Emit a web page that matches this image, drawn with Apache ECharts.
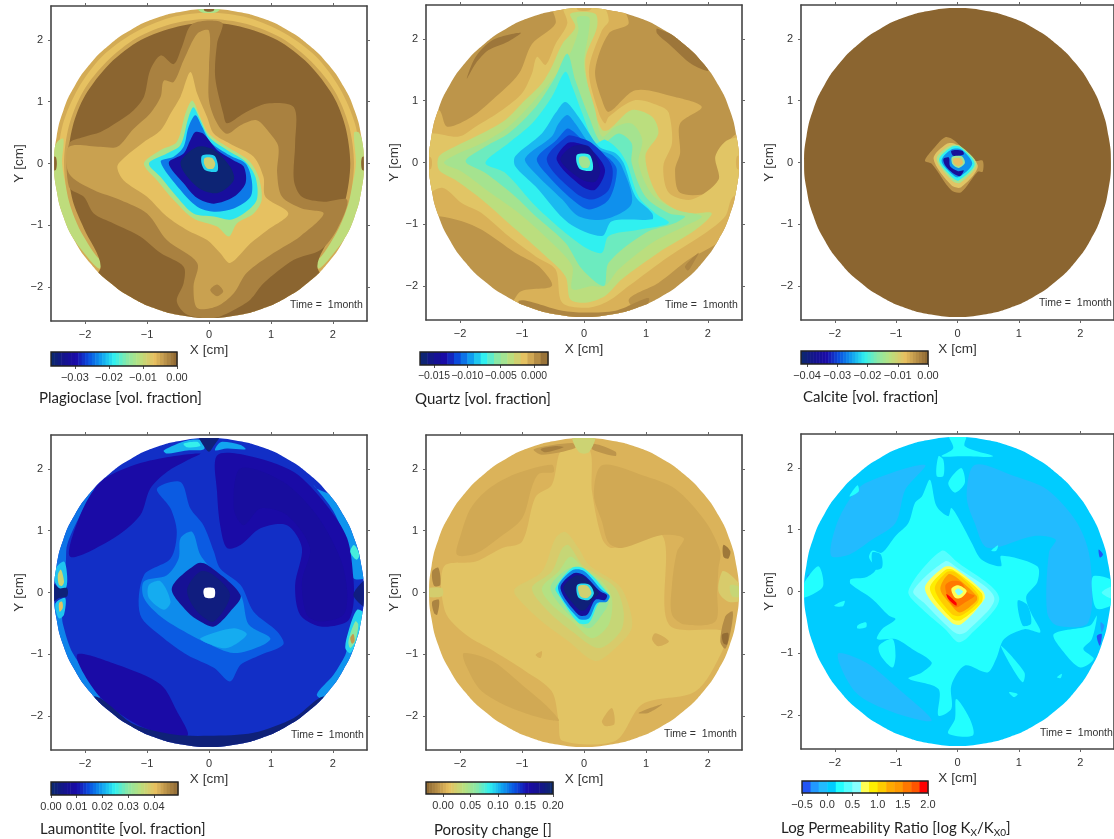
<!DOCTYPE html>
<html><head><meta charset="utf-8">
<script src="https://cdn.jsdelivr.net/npm/echarts@6/dist/echarts.min.js"></script>
<style>html,body{margin:0;padding:0;background:#fff}#c{width:1114px;height:839px;filter:blur(0.7px)}</style>
</head><body><div id="c"></div>
<script>
// ---- axis ticks ----
const mapTicks=[-2,-1,0,1,2];
const plagioclaseTicks=[-0.03,-0.02,-0.01,0];
const quartzTicks=[-0.015,-0.01,-0.005,0];
const calciteTicks=[-0.04,-0.03,-0.02,-0.01,0];
const laumontiteTicks=[0,0.01,0.02,0.03,0.04];
const porosityTicks=[0,0.05,0.1,0.15,0.2];
const permeabilityTicks=[-0.5,0,0.5,1,1.5,2];
// ---- colour-bar classes ----
const plagioclaseEdges=[-0.037,-0.036,-0.035,-0.034,-0.033,-0.032,-0.031,-0.03,-0.029,-0.028,-0.027,-0.026,-0.025,-0.024,-0.023,-0.022,-0.021,-0.02,-0.019,-0.018,-0.017,-0.016,-0.015,-0.014,-0.013,-0.012,-0.011,-0.01,-0.009,-0.008,-0.007,-0.006,-0.005,-0.004,-0.003,-0.002,-0.001,0];
const quartzEdges=[-0.0171,-0.016,-0.015,-0.014,-0.013,-0.012,-0.011,-0.01,-0.009,-0.008,-0.007,-0.006,-0.005,-0.004,-0.003,-0.002,-0.001,0,0.001,0.0021];
const calciteEdges=[-0.042,-0.041,-0.04,-0.039,-0.038,-0.037,-0.036,-0.035,-0.034,-0.033,-0.032,-0.031,-0.03,-0.029,-0.028,-0.027,-0.026,-0.025,-0.024,-0.023,-0.022,-0.021,-0.02,-0.019,-0.018,-0.017,-0.016,-0.015,-0.014,-0.013,-0.012,-0.011,-0.01,-0.009,-0.008,-0.007,-0.006,-0.005,-0.004,-0.003,-0.002,-0.001,0];
const laumontiteEdges=[0,0.00125,0.0025,0.00375,0.005,0.00625,0.0075,0.00875,0.01,0.01125,0.0125,0.01375,0.015,0.01625,0.0175,0.01875,0.02,0.02125,0.0225,0.02375,0.025,0.02625,0.0275,0.02875,0.03,0.03125,0.0325,0.03375,0.035,0.03625,0.0375,0.03875,0.04,0.04125,0.0425,0.04375,0.045,0.04625,0.0475,0.04875,0.0494];
const porosityEdges=[-0.031,-0.025,-0.02,-0.015,-0.01,-0.005,0,0.005,0.01,0.015,0.02,0.025,0.03,0.035,0.04,0.045,0.05,0.055,0.06,0.065,0.07,0.075,0.08,0.085,0.09,0.095,0.1,0.105,0.11,0.115,0.12,0.125,0.13,0.135,0.14,0.145,0.15,0.155,0.16,0.165,0.17,0.175,0.18,0.185,0.19,0.195,0.2];
const permeabilityEdges=[-0.5,-0.33,-0.17,0,0.17,0.33,0.5,0.67,0.83,1,1.17,1.33,1.5,1.67,1.83,2];
// ---- sample outline (cm) ----
const diskOutline=[[2.5,0],[2.46,.43],[2.35,.86],[2.17,1.25],[1.92,1.61],[1.61,1.92],[1.25,2.17],[.86,2.35],[.43,2.46],[0,2.5],[-.43,2.46],[-.86,2.35],[-1.25,2.17],[-1.61,1.92],[-1.92,1.61],[-2.17,1.25],[-2.35,.86],[-2.46,.43],[-2.5,0],[-2.46,-.43],[-2.35,-.86],[-2.17,-1.25],[-1.92,-1.61],[-1.61,-1.92],[-1.25,-2.17],[-.86,-2.35],[-.43,-2.46],[0,-2.5],[.43,-2.46],[.86,-2.35],[1.25,-2.17],[1.61,-1.92],[1.92,-1.61],[2.17,-1.25],[2.35,-.86],[2.46,-.43]];
const bigBox=[[-2.7,2.7],[2.7,2.7],[2.7,-2.7],[-2.7,-2.7]];
const ringOuter=[[2.44,0],[2.36,.63],[2.11,1.22],[1.73,1.73],[1.22,2.11],[.63,2.36],[0,2.44],[-.63,2.36],[-1.22,2.11],[-1.73,1.73],[-2.11,1.22],[-2.36,.63],[-2.44,0],[-2.36,-.63],[-2.11,-1.22],[-1.73,-1.73],[0,-2.44],[1.73,-1.73],[2.11,-1.22],[2.36,-.63]];
const ringInner=[[2.34,0],[2.26,.61],[2.03,1.17],[1.65,1.65],[1.17,2.03],[.61,2.26],[0,2.34],[-.61,2.26],[-1.17,2.03],[-1.65,1.65],[-2.03,1.17],[-2.26,.61],[-2.34,0],[-2.26,-.61],[-2.03,-1.17],[-1.65,-1.65],[0,-2.34],[1.65,-1.65],[2.03,-1.17],[2.26,-.61]];
// ---- contour bands: [level, outline in cm] painted in order ----
const plagioclaseContours=[
[-0.0052,bigBox],
[-0.0068,ringOuter],
[-0.0105,[[-2.45,.35],[-2.6,0],[-2.5,-.6],[-2.3,-1.05],[-2.0,-1.47],[-1.78,-1.7],[-1.72,-1.62],[-1.9,-1.33],[-2.15,-.9],[-2.3,-.4],[-2.37,0],[-2.35,.4]]],
[-0.0105,[[2.42,.5],[2.6,0],[2.5,-.6],[2.3,-1.05],[2.0,-1.47],[1.78,-1.7],[1.72,-1.62],[1.9,-1.33],[2.15,-.9],[2.3,-.4],[2.37,0],[2.34,.5]]],
[-0.0048,ringInner],
[0,[[-1.75,-1.68],[-2.02,-1.05],[-2.2,-.6],[-2.28,0],[-2.2,.6],[-2.0,1.1],[-1.6,1.62],[-1.1,2.0],[-.5,2.22],[0,2.28],[.5,2.22],[1.1,2],[1.6,1.62],[2,1.1],[2.2,.6],[2.28,0],[2.2,-.6],[2,-1.1],[1.75,-1.68],[2.1,-2.2],[0,-2.9],[-2.1,-2.2]]],
[-0.012,[[-.22,2.56],[.22,2.56],[.12,2.45],[-.12,2.45]]],
[0,[[-.08,2.56],[.08,2.56],[.07,2.47],[-.07,2.47]]],
[0,[[-2.56,.1],[-2.47,.1],[-2.47,-.1],[-2.56,-.1]]],
[0,[[2.56,.1],[2.47,.1],[2.47,-.1],[2.56,-.1]]],
[-0.0022,[[-2.26,.32],[-2.02,.43],[-1.75,.51],[-1.51,.65],[-1.22,.86],[-1.05,1.08],[-.95,1.51],[-.78,1.75],[-.57,1.61],[-.44,1.88],[-.27,2.26],[.21,2.28],[.13,1.94],[.10,1.40],[.23,.81],[.29,.65],[.56,.81],[.94,.97],[1.37,.91],[1.39,.32],[1.37,-.27],[1.5,-.54],[1.85,-.62],[2.23,-.59],[2.06,-1.08],[1.80,-1.40],[1.37,-1.56],[.88,-1.94],[.67,-2.2],[.40,-2.37],[.08,-2.5],[-.35,-2.45],[-.52,-2.23],[-.41,-1.94],[-.41,-1.67],[-.78,-1.45],[-1.11,-1.18],[-1.54,-.97],[-1.86,-.81],[-2.02,-.54],[-2.26,-.38]]],
[-0.0045,[[-2.26,.27],[-1.75,.27],[-1.48,.27],[-1.22,.56],[-.95,.81],[-.78,1.08],[-.73,1.34],[-.57,1.32],[-.41,1.67],[-.19,2.1],[0,2.15],[0,1.56],[0,1.02],[.13,.65],[.29,.48],[.51,.62],[.77,.70],[.99,.48],[1.12,.27],[1.10,-.16],[1.18,-.54],[1.5,-.73],[1.85,-.81],[1.47,-1.18],[1.04,-1.45],[.61,-1.77],[.40,-2.1],[.13,-2.31],[-.19,-2.34],[-.25,-1.99],[-.19,-1.61],[-.68,-1.24],[-1.0,-.81],[-1.43,-.59],[-1.86,-.43],[-2.26,-.16]]],
[-0.0025,[[.02,-2.05],[.13,-1.96],[.23,-2.07],[.13,-2.15]]],
[-0.0068,[[-1.48,-.05],[-1.35,.11],[-1.05,.35],[-.78,.54],[-.62,.81],[-.46,1.08],[-.30,1.48],[-.19,1.13],[-.03,.75],[.08,.48],[.34,.32],[.72,.11],[.88,-.22],[.91,-.54],[1.28,-.81],[.94,-1.08],[.67,-1.29],[.34,-1.61],[.18,-1.45],[-.03,-1.24],[-.35,-1.08],[-.68,-.86],[-1.0,-.54],[-1.38,-.27]]],
[-0.012,[[-1.05,0],[-.78,.22],[-.52,.35],[-.38,.81],[-.27,1.02],[-.14,.75],[0,.48],[.29,.27],[.64,.05],[.80,-.22],[.85,-.59],[.72,-.81],[.45,-.97],[.32,-1.18],[.13,-1.02],[-.25,-.89],[-.57,-.59],[-.84,-.27]]],
[-0.019,[[-.97,0],[-.68,.16],[-.46,.30],[-.33,.75],[-.25,.91],[-.14,.70],[0,.43],[.29,.22],[.59,.03],[.75,-.22],[.77,-.59],[.56,-.81],[.34,-.91],[.08,-.86],[-.25,-.81],[-.52,-.54],[-.78,-.22]]],
[-0.024,[[-.78,.03],[-.57,.11],[-.41,.27],[-.33,.59],[-.22,.78],[-.11,.59],[.02,.35],[.34,.13],[.59,0],[.69,-.27],[.67,-.54],[.40,-.73],[.08,-.78],[-.19,-.70],[-.46,-.43]]],
[-0.031,[[-.65,.01],[-.41,.16],[-.3,.38],[-.22,.51],[-.09,.48],[.13,.22],[.40,.05],[.56,-.05],[.59,-.32],[.40,-.54],[.08,-.65],[-.19,-.56],[-.41,-.32]]],
[-0.036,[[-.46,0],[-.19,.27],[.08,.22],[.34,-.05],[.40,-.27],[.13,-.48],[-.19,-.38]]],
[-0.02,[[-.11,.13],[.08,.13],[.14,0],[.13,-.13],[-.06,-.11],[-.12,0]]],
[-0.009,[[-.07,.09],[.05,.09],[.10,0],[.07,-.08],[-.03,-.08],[-.08,0]]]
];
const quartzContours=[
[.0002,bigBox],
[.0014,[[-1.89,1.36],[-1.75,1.71],[-1.48,1.98],[-1.02,2.10],[-1.22,1.96],[-1.54,1.82],[-1.75,1.6]]],
[.0014,[[1.18,2.17],[1.69,1.92],[2.01,1.49],[1.74,1.59],[1.37,1.92],[1.18,2.09]]],
[-.0008,[[-.52,2.6],[-.46,2.25],[-.84,1.92],[-1.05,1.44],[-1.48,1.01],[-1.81,.74],[-2.21,.58],[-2.34,.85],[-2.67,.85],[-2.67,-.87],[-2.34,-.87],[-1.97,-.95],[-1.65,-1.09],[-1.11,-1.46],[-.73,-1.68],[-.52,-2.0],[-1.05,-2.11],[-1.22,-2.75],[1.2,-2.75],[.72,-2.24],[1.2,-1.95],[1.69,-1.57],[2.23,-1.25],[2.41,-.92],[2.82,-.92],[2.82,.47],[2.47,.47],[2.28,.26],[2.17,.04],[2.33,-.28],[2.06,-.49],[1.55,-.49],[1.47,-.12],[1.55,.15],[1.55,.63],[1.90,.90],[1.47,1.06],[.83,1.17],[.40,.82],[.29,1.01],[.18,1.49],[.40,2.09],[.72,2.25],[.51,2.6]]],
[.0008,[[-1.05,-2.24],[-.35,-2.40],[0,-2.43],[.51,-2.40],[1.05,-2.2],[.72,-2.7],[0,-2.7],[-.78,-2.7]]],
[.0008,[[1.63,-1.68],[1.85,-1.46],[1.78,-1.6],[1.68,-1.75]]],
[-.0017,[[-.33,2.54],[-.27,2.25],[-.46,1.92],[-.62,1.58],[-.76,1.71],[-.84,1.44],[-1.0,1.12],[-1.32,.85],[-1.75,.58],[-2.02,.42],[-2.40,.47],[-2.67,.47],[-2.67,-.55],[-2.29,-.41],[-1.97,-.66],[-1.65,-.82],[-1.22,-1.19],[-.78,-1.52],[-.46,-1.73],[-.35,-2.27],[.08,-2.35],[.40,-2.24],[.72,-2.0],[1.37,-1.52],[1.96,-1.14],[2.28,-.87],[2.41,-.55],[2.82,-.44],[2.82,.37],[2.33,.37],[2.12,.10],[2.17,-.28],[1.74,-.60],[1.37,-.49],[1.28,-.06],[1.42,.31],[1.37,.80],[1.26,.90],[.83,1.01],[.40,.74],[.34,.63],[.24,.80],[.08,1.49],[.29,2.14],[.40,2.3],[.29,2.54]]],
[-.0008,[[-.12,2.6],[.14,2.6],[.1,2.47],[-.1,2.47]]],
[-.0008,[[-2.6,.08],[-2.47,.08],[-2.47,-.1],[-2.6,-.1]]],
[-.0008,[[2.6,.1],[2.47,.1],[2.47,-.1],[2.6,-.1]]],
[-.0035,[[-.22,2.41],[-.14,2.19],[-.35,1.92],[-.52,1.55],[-.68,1.28],[-.95,1.01],[-1.27,.69],[-1.75,.42],[-2.08,.26],[-2.34,.10],[-2.34,-.12],[-2.08,-.28],[-1.65,-.6],[-1.22,-.98],[-.68,-1.46],[-.30,-1.84],[-.22,-2.22],[.02,-2.27],[.34,-2.16],[.61,-1.89],[1.2,-1.46],[1.80,-1.09],[2.06,-.82],[1.63,-.82],[1.2,-.55],[.99,.10],[1.2,.47],[1.10,.74],[.77,.85],[.40,.53],[.29,.53],[.13,.96],[.02,1.66],[.21,2.19],[.18,2.41]]],
[-.0044,[[-.11,2.35],[-.09,2.14],[-.25,1.71],[-.52,1.33],[-.84,.96],[-1.22,.58],[-1.65,.31],[-2.08,.12],[-2.26,-.01],[-1.97,-.15],[-1.54,-.47],[-1.05,-.82],[-.52,-1.30],[-.19,-1.68],[-.19,-2.05],[.13,-2.0],[.34,-2.0],[.56,-1.73],[1.10,-1.30],[1.63,-1.03],[1.90,-.87],[1.47,-.76],[1.1,-.52],[.88,-.01],[.94,.37],[.77,.63],[.51,.58],[.29,.42],[.18,.85],[0,1.55],[.08,2.14],[.08,2.35]]],
[-.0062,[[-.27,1.76],[-.46,1.39],[-.78,.90],[-1.22,.47],[-1.59,.26],[-1.91,.02],[-1.59,-.17],[-1.11,-.55],[-.78,-.87],[-.3,-1.3],[-.03,-1.73],[.32,-2.0],[.40,-1.62],[.99,-1.14],[1.47,-.98],[1.63,-.87],[1.37,-.82],[.99,-.55],[.77,-.01],[.77,.31],[.56,.47],[.29,.31],[.08,.74],[-.14,1.33]]],
[-.0075,[[-.30,1.47],[-.52,1.06],[-.84,.63],[-1.22,.31],[-1.59,-.01],[-1.27,-.17],[-.78,-.71],[-.30,-1.14],[.08,-1.41],[.29,-1.46],[.40,-1.19],[.88,-1.09],[1.37,-.98],[1.15,-.82],[.88,-.55],[.69,-.01],[.56,.20],[.34,.37],[.18,.31],[-.03,.80],[-.19,1.23]]],
[-.0088,[[-.30,.98],[-.46,.80],[-.68,.47],[-1.11,.10],[-1.11,-.06],[-.78,-.39],[-.25,-.98],[.29,-1.19],[.45,-.95],[1.1,-.92],[1.10,-.82],[.83,-.55],[.64,-.01],[.51,.15],[.24,.26],[-.09,.74]]],
[-.0098,[[-.27,.77],[-.41,.63],[-.52,.42],[-.95,.07],[-.84,-.12],[-.35,-.6],[-.09,-.87],[.34,-.92],[.77,-.66],[.61,-.06],[.45,.12],[.13,.26],[-.14,.63]]],
[-.011,[[-.27,.55],[-.44,.37],[-.76,.07],[-.62,-.17],[-.19,-.60],[.08,-.76],[.40,-.60],[.53,-.12],[.40,.07],[.08,.26],[-.17,.50]]],
[-.012,[[-.27,.43],[-.6,.04],[-.14,-.49],[.13,-.6],[.40,-.44],[.45,-.06],[.13,.31],[-.14,.42]]],
[-.0135,[[-.27,.31],[-.44,.04],[-.03,-.39],[.18,-.44],[.34,-.12],[.13,.2],[-.09,.31]]],
[-.015,[[-.19,.26],[-.38,.04],[-.03,-.28],[.18,-.31],[.26,-.12],[.08,.26]]],
[-.0075,[[-.11,.13],[.08,.13],[.14,0],[.13,-.13],[-.06,-.11],[-.12,0]]],
[-.0045,[[-.07,.09],[.05,.09],[.10,0],[.07,-.08],[-.03,-.08],[-.08,0]]]
];
const calciteContours=[
[0,bigBox],
[-.004,[[-.53,.03],[-.42,.19],[-.2,.41],[-.04,.35],[.28,.03],[.41,.03],[.41,-.15],[.33,-.15],[.06,-.48],[-.1,-.45],[-.42,-.02]]],
[-.0084,[[-.39,.06],[-.18,.3],[-.04,.3],[.33,-.05],[.06,-.4],[-.1,-.37]]],
[-.0143,[[-.34,.06],[-.12,.27],[.04,.27],[.31,-.03],[.04,-.33],[-.09,-.29]]],
[-.021,[[-.3,.04],[-.1,.25],[.04,.25],[.28,-.03],[.02,-.29],[-.09,-.24]]],
[-.026,[[-.26,.03],[-.1,.21],[.06,.21],[.24,-.02],[.01,-.24],[-.11,-.17]]],
[-.036,[[-.1,.19],[.08,.19],[.1,.13],[-.07,.11]]],
[-.036,[[-.23,.06],[-.14,.08],[-.12,-.06],[.01,-.14],[.1,-.13],[.04,-.22],[-.08,-.17],[-.2,-.05]]],
[-.015,[[-.09,.09],[.07,.1],[.12,-.01],[.02,-.09],[-.08,-.03]]],
[-.0075,[[-.07,.06],[.05,.07],[.09,-.01],[.02,-.06],[-.06,-.02]]]
];
const laumontiteContours=[
[.0125,bigBox],
[.017,[[-2.6,.45],[-2.1,1.47],[-1.83,1.68],[-2.08,1.25],[-2.29,.77],[-2.34,.39]]],
[.019,[[1.74,1.68],[2.2,1.46],[2.5,.88],[2.6,.28],[2.33,.23],[2.25,.72],[2.01,1.31],[1.69,1.74]]],
[.018,[[-2.6,-.2],[-2.5,-.6],[-2.3,-1.1],[-1.85,-1.75],[-1.75,-1.65],[-2.2,-.98],[-2.36,-.5],[-2.4,-.2]]],
[.019,[[1.74,-1.65],[2.01,-1.33],[2.2,-1.01],[2.28,-.79],[2.6,-.79],[2.3,-1.5],[1.88,-1.74]]],
[.0095,[[-2.24,.58],[-1.54,.88],[-1.11,1.25],[-.95,1.68],[-.68,1.95],[-.35,2.14],[-.14,2.25],[-.68,2.19],[-1.22,2.06],[-1.75,1.79],[-2.08,1.25]]],
[.0095,[[.13,2.22],[.61,2.22],[1.37,1.95],[1.9,1.41],[2.23,.88],[2.33,.23],[2.33,-.2],[2.23,-.47],[1.8,-.55],[1.47,-.36],[1.39,.12],[1.5,.72],[1.26,1.09],[.83,1.04],[.51,.77],[.29,.72],[.18,1.09],[.13,1.63]]],
[.0095,[[-2.13,-1.01],[-1.48,-1.17],[-.78,-1.49],[-.52,-1.92],[-.35,-2.32],[-1.05,-2.19],[-1.75,-1.7]]],
[.0082,[[.51,2.01],[1.2,1.79],[1.74,1.25],[2.12,.55],[2.23,.02],[2.17,-.36],[1.8,-.47],[1.58,-.36],[1.5,.18],[1.63,.72],[1.26,1.25],[.83,1.36],[.56,1.09],[.4,1.36]]],
[.002,[[-1.86,-1.68],[-1.22,-2.13],[-.57,-2.3],[0,-2.32],[.72,-2.27],[1.37,-2.03],[1.88,-1.68],[2.2,-2.13],[0,-2.8],[-2.2,-2.13]]],
[.0155,[[-1.05,.28],[-.62,.55],[-.52,.98],[-.62,1.36],[-.84,1.68],[-.46,1.79],[-.3,1.36],[-.09,1.09],[.08,.66],[.18,.39],[.51,.12],[.72,-.31],[1.1,-.63],[1.2,-.84],[.83,-1.01],[.51,-1.17],[.34,-1.44],[.08,-1.22],[-.35,-1.01],[-.73,-.74],[-1.11,-.36]]],
[.0185,[[-1.05,.18],[-.68,.28],[-.49,.55],[-.46,.88],[-.27,.98],[-.14,.61],[.08,.34],[.51,-.04],[.64,-.52],[.99,-.74],[.83,-.87],[.4,-.98],[-.03,-.82],[-.35,-.66],[-.78,-.39],[-1.05,-.09]]],
[.0205,[[-.14,-.74],[.4,-.58],[.61,-.68],[.29,-.9],[-.03,-.82]]],
[.0205,[[-.97,.12],[-.78,.18],[-.62,-.15],[-.73,-.28],[-.97,-.09]]],
[.0065,[[-.6,.07],[-.19,.47],[-.03,.45],[.51,-.04],[.34,-.31],[.08,-.55],[-.14,-.47],[-.35,-.31]]],
[.003,[[-.35,.07],[-.14,.34],[.08,.28],[.34,-.04],[.08,-.47],[-.14,-.36],[-.3,-.15]]],
[null,[[-.07,.07],[.08,.07],[.1,0],[.08,-.08],[-.06,-.08],[-.09,0]]],
[.021,[[-.73,2.3],[-.35,2.46],[-.11,2.46],[-.08,2.32],[-.35,2.3],[-.68,2.25]]],
[.025,[[-.41,2.41],[-.19,2.44],[-.14,2.37],[-.35,2.35]]],
[.02,[[.13,2.38],[.21,2.44],[.51,2.39],[.59,2.32],[.29,2.33],[.1,2.3]]],
[.002,[[-.17,2.56],[.18,2.56],[.08,2.38],[0,2.28],[-.09,2.38]]],
[.022,[[-2.48,.39],[-2.34,.5],[-2.29,.28],[-2.31,.07],[-2.42,.07],[-2.51,.23]]],
[.037,[[-2.44,.28],[-2.39,.37],[-2.34,.18],[-2.37,.11],[-2.42,.12]]],
[.022,[[-2.46,-.15],[-2.32,-.09],[-2.34,-.36],[-2.42,-.42],[-2.48,-.25]]],
[.04,[[-2.42,-.17],[-2.37,-.15],[-2.36,-.25],[-2.41,-.31]]],
[.002,[[-2.56,.18],[-2.42,.07],[-2.29,.07],[-2.29,-.06],[-2.42,-.09],[-2.56,-.17]]],
[.003,[[2.56,.22],[2.33,-.04],[2.56,-.25]]],
[.026,[[2.28,.66],[2.34,.77],[2.43,.61],[2.38,.53]]],
[.023,[[2.39,-.28],[2.52,-.36],[2.41,-.74],[2.28,-.98],[2.2,-.9],[2.25,-.63]]],
[.03,[[2.36,-.47],[2.41,-.52],[2.36,-.79],[2.28,-.9],[2.25,-.79]]],
[.044,[[2.28,-.74],[2.33,-.67],[2.35,-.79],[2.31,-.83]]]
];
const porosityContours=[
[.005,bigBox],
[.014,[[-2.26,.42],[-1.75,.5],[-1.32,.72],[-1,.82],[-.78,1.55],[-.52,1.74],[-.35,2.33],[.08,2.33],[.13,1.63],[.29,.88],[.45,.72],[1.26,.93],[1.37,-.52],[2.28,-.63],[2.23,-.95],[1.8,-1.6],[.94,-1.81],[.51,-2.4],[-.35,-2.4],[-.41,-2.08],[-.52,-1.6],[-.95,-1.27],[-1.54,-.9],[-1.91,-.68],[-2.24,-.31]]],
[.0005,[[-2.05,.61],[-1.99,.93],[-1.83,1.36],[-1.54,1.68],[-1.11,1.92],[-.52,2.07],[-.49,1.95],[-.73,1.92],[-.84,1.71],[-1,1.2],[-1.38,.88],[-1.75,.63]]],
[.0005,[[.29,2.06],[.94,1.9],[1.47,1.68],[1.96,1.15],[2.2,.66],[2.17,.39],[2.15,.02],[2.12,-.47],[1.63,-.52],[1.42,-.36],[1.42,.12],[1.5,.66],[1.61,.88],[1.26,.93],[.61,.72],[.4,.8],[.29,1.15],[.16,1.58]]],
[.0005,[[-1.94,-.98],[-1.48,-1.11],[-.95,-1.54],[-.57,-1.87],[-.41,-2.08],[-1.05,-1.92],[-1.65,-1.6],[-1.91,-1.17]]],
[.002,[[1.15,-.66],[1.37,-.79],[1.2,-.87],[1.1,-.76]]],
[.003,[[.29,-2.08],[.45,-1.87],[.49,-2.13],[.34,-2.16]]],
[-.008,[[.88,-1.95],[1.26,-1.81],[1.04,-1.95]]],
[.004,[[-.78,-1.01],[-.68,-.95],[-.7,-1.06]]],
[-.006,[[-.81,2.32],[-.19,2.42],[-.14,2.34],[-.68,2.23]]],
[-.018,[[-.7,2.32],[-.46,2.37],[-.33,2.35],[-.62,2.27]]],
[-.008,[[.16,2.41],[.51,2.28],[.51,2.21],[.13,2.32]]],
[-.016,[[-2.45,.34],[-2.35,.4],[-2.32,.12],[-2.42,.11]]],
[-.016,[[-2.45,-.15],[-2.34,-.12],[-2.37,-.36],[-2.42,-.33]]],
[-.022,[[2.25,.77],[2.36,.67],[2.33,.55],[2.25,.58]]],
[-.012,[[2.28,-.39],[2.4,-.31],[2.36,-.66],[2.28,-.91],[2.2,-.79]]],
[-.027,[[2.23,-.68],[2.33,-.66],[2.31,-.84],[2.25,-.82]]],
[.02,[[2.23,.34],[2.33,.31],[2.56,.07],[2.56,-.12],[2.33,-.15],[2.17,.02]]],
[.03,[[2.36,.12],[2.56,.07],[2.56,-.06],[2.39,-.06]]],
[.027,[[-.19,2.56],[.18,2.56],[.08,2.27],[-.08,2.27]]],
[.022,[[-2.56,.06],[-2.29,.07],[-2.29,-.06],[-2.56,-.06]]],
[.02,[[-1.11,.07],[-.68,.34],[-.46,.88],[-.3,.98],[-.09,.72],[.08,.45],[.56,.12],[.72,-.2],[.77,-.58],[.51,-.9],[.18,-1.11],[-.25,-.79],[-.68,-.47],[-1.11,-.04]]],
[.03,[[-.84,.07],[-.52,.34],[-.35,.72],[-.25,.77],[-.03,.45],[.13,.34],[.51,.07],[.64,-.31],[.59,-.63],[.24,-.9],[-.19,-.63],[-.57,-.31]]],
[.04,[[-.68,.07],[-.41,.34],[-.22,.58],[0,.39],[.29,.18],[.45,-.09],[.4,-.52],[.13,-.74],[-.19,-.47],[-.52,-.2]]],
[.055,[[-.54,.07],[-.25,.39],[.02,.37],[.34,.07],[.4,-.15],[.29,-.36],[.08,-.58],[-.19,-.41]]],
[.085,[[-.46,.07],[-.19,.4],[0,.39],[.34,.04],[.42,-.09],[.24,-.17],[.08,-.49],[-.09,-.49],[-.41,-.04]]],
[.115,[[-.42,.07],[-.19,.36],[0,.35],[.29,.04],[.41,-.05],[.37,-.15],[.21,-.17],[.08,-.42],[-.09,-.42]]],
[.165,[[-.38,.07],[-.17,.31],[0,.28],[.26,.02],[.37,-.04],[.34,-.12],[.18,-.12],[.05,-.36],[-.09,-.36]]],
[.19,[[-.33,.07],[-.14,.27],[0,.25],[.24,-.01],[.16,-.09],[.02,-.28],[-.08,-.28]]],
[.09,[[-.11,.12],[.08,.13],[.16,-.01],[.08,-.12],[-.09,-.08]]],
[.025,[[-.09,.1],[.05,.11],[.12,-.01],[.05,-.09],[-.06,-.06]]]
];
const permeabilityContours=[
[.05,bigBox],
[-.1,[[-2.06,.58],[-1.98,1.06],[-1.76,1.49],[-1.49,1.76],[-.53,2.05],[-.85,1.65],[-1.01,1.11],[-1.39,.84],[-1.76,.6]]],
[-.1,[[.28,2.05],[.92,1.87],[1.46,1.65],[1.95,1.11],[2.16,.52],[2.13,-.5],[1.62,-.55],[1.46,-.34],[1.49,.63],[1.6,.84],[1.25,.9],[.49,.71],[.28,1.11],[.15,1.54]]],
[-.1,[[-1.95,-1.01],[-1.49,-1.15],[-.96,-1.58],[-.42,-2.09],[-1.06,-1.95],[-1.66,-1.63]]],
[-.4,[[2.3,.68],[2.37,.6],[2.32,.55]]],
[-.4,[[2.27,-.72],[2.35,-.69],[2.32,-.88]]],
[-.25,[[2.33,-.5],[2.39,-.55],[2.35,-.66]]],
[-.25,[[-2.45,.25],[-2.4,.28],[-2.41,.12]]],
[.25,[[-1.74,.2],[-1.49,.23],[-1.33,.36],[-1.44,.55],[-1.39,.66],[-1.23,.63],[-1.01,.9],[-.8,1.11],[-.69,1.44],[-.58,1.54],[-.45,1.81],[-.34,1.38],[-.15,1.22],[-.1,1.35],[.06,1.11],[.23,.79],[.39,.52],[.71,.41],[.71,.58],[1.3,.41],[1.3,.15],[1.12,-.08],[1.2,-.35],[1.35,-.66],[1.09,-.61],[.76,-.77],[.63,-1.09],[.49,-1.31],[.12,-1.2],[-.1,-1.52],[-.1,-1.9],[-.31,-2.01],[-.31,-1.58],[-.8,-1.41],[-.58,-1.31],[-.42,-1.15],[-.74,-.93],[-1.01,-.77],[-1.31,-.77],[-1.23,-.61],[-1.01,-.45],[-1.12,-.39],[-1.39,-.12],[-1.74,.12]]],
[.25,[[-.31,2.19],[-.23,2.13],[-.23,1.87],[-.34,1.87]]],
[.25,[[-.15,1.76],[.06,2.0],[.12,1.76],[-.04,1.6]]],
[.25,[[-.02,-1.74],[.2,-2.06],[.25,-2.33],[-.15,-2.3],[-.04,-2.06]]],
[.25,[[-1.28,-.88],[-1.06,-.77],[-1.01,-1.04],[-1.06,-1.23],[-1.25,-1.04]]],
[.25,[[1.57,-.69],[2.16,-.55],[2.27,-.39],[2.19,-.77],[2.05,-.93],[2.22,-1.09],[2.0,-1.23],[1.73,-.98]]],
[.25,[[.71,-.88],[1.09,-1.31],[1.06,-1.47],[.87,-1.2]]],
[.25,[[2.22,.25],[2.56,.15],[2.56,-.18],[2.27,-.28],[2.19,.04]]],
[.4,[[2.35,-.02],[2.56,.09],[2.56,-.12]]],
[.25,[[-2.56,.04],[-2.27,.41],[-2.19,.09],[-2.41,-.07],[-2.56,-.1]]],
[.25,[[-.15,2.56],[.15,2.56],[.12,2.35],[.58,2.19],[.06,2.19],[-.26,2.19],[-.07,2.32]]],
[.25,[[-1.63,-.55],[-1.49,-.5],[-1.49,-.58],[-1.63,-.6]]],
[.25,[[-2.01,-.23],[-1.84,-.15],[-1.87,-.24]]],
[.25,[[-1.76,1.54],[-1.63,1.72],[-1.61,1.62]]],
[.25,[[.55,.66],[.66,.75],[.63,.66]]],
[.25,[[.84,-1.63],[.98,-1.66],[.92,-1.71]]],
[.25,[[1.62,-1.39],[1.7,-1.33],[1.68,-1.4]]],
[.05,[[-1.39,.63],[-1.25,.6],[-1.23,.39],[-1.36,.36]]],
[.05,[[.98,-.15],[1.14,-.22],[1.2,-.52],[1.06,-.55]]],
[.4,[[-.8,.01],[-.26,.66],[-.02,.49],[.68,-.1],[.17,-.74],[.01,-.82],[-.2,-.61],[-.58,-.28]]],
[.58,[[-.72,.01],[-.2,.49],[-.04,.41],[.6,-.1],[.17,-.63],[.01,-.69],[-.2,-.53],[-.55,-.18]]],
[.75,[[-.53,.04],[-.23,.39],[-.07,.39],[.41,.01],[.44,-.12],[.06,-.53],[-.1,-.5]]],
[.9,[[-.45,.04],[-.2,.35],[-.07,.35],[.39,-.02],[.39,-.18],[.06,-.46],[-.09,-.44]]],
[1.1,[[-.37,.04],[-.18,.31],[-.04,.31],[.33,-.04],[.33,-.18],[.06,-.39],[-.09,-.37]]],
[1.4,[[-.28,.04],[-.15,.28],[-.02,.23],[.31,-.07],[.31,-.15],[.04,-.34],[-.12,-.2]]],
[1.6,[[-.2,.09],[-.1,.17],[.06,.15],[.17,-.02],[.28,-.07],[.12,-.18],[-.02,-.26],[-.12,-.18]]],
[1.9,[[-.18,-.04],[-.02,-.18],[-.02,-.23],[-.15,-.12]]],
[.75,[[-.1,.04],[.01,.1],[.15,.01],[.06,-.1],[-.04,-.1]]],
[.58,[[-.04,.01],[.01,.05],[.09,0],[.02,-.06]]]
];
// ---- styles ----
const earthStops=[[0,[11,42,107]],[.1,[20,20,140]],[.2,[26,10,168]],[.3,[10,80,224]],[.4,[16,160,240]],[.5,[48,240,240]],[.6,[136,232,168]],[.7,[184,224,128]],[.82,[232,192,96]],[.91,[184,144,72]],[1,[139,101,48]]];
const jetClasses=['#2255f5','#2299ff','#22bbff','#00ccff','#22ffff','#55ffff','#88ffff','#ffff55','#ffee00','#ffcc00','#ffaa00','#ff9900','#ff7700','#ff5500','#ff0000'];
function earth(t){t=Math.max(0,Math.min(1,t));let i=0;while(i<earthStops.length-2&&t>earthStops[i+1][0])i++;const a=earthStops[i],b=earthStops[i+1],f=(t-a[0])/(b[0]-a[0]);return 'rgb('+a[1].map((c,k)=>Math.round(c+(b[1][k]-c)*f)).join(',')+')';}
const rangeColor=(lo,hi,rev)=>v=>v===null?'#fff':earth(rev?1-(v-lo)/(hi-lo):(v-lo)/(hi-lo));
const jetColor=v=>{let i=0;while(i<jetClasses.length-1&&v>permeabilityEdges[i+1])i++;return jetClasses[i];};
const AXIS='#444',TXT='#333';
const panels=[
{c:plagioclaseContours,e:plagioclaseEdges,t:plagioclaseTicks,d:2,fs:11,col:rangeColor(-.037,0),g:[51,6],b:[51,352,126,14],cap:'Plagioclase [vol. fraction]',cx:39,cy:397,tx:290,ty:306},
{c:quartzContours,e:quartzEdges,t:quartzTicks,d:3,fs:10.4,col:rangeColor(-.0171,.0021),g:[426,5],b:[420,352,128,13],cap:'Quartz [vol. fraction]',cx:415,cy:398,tx:665,ty:306},
{c:calciteContours,e:calciteEdges,t:calciteTicks,d:2,fs:11,col:rangeColor(-.042,0),g:[801,5],b:[801,351,127,13],cap:'Calcite [vol. fraction]',cx:803,cy:396,tx:1039,ty:304},
{c:laumontiteContours,e:laumontiteEdges,t:laumontiteTicks,d:2,fs:11,col:rangeColor(0,.0494),g:[51,435],b:[51,782,127,13],cap:'Laumontite [vol. fraction]',cx:40,cy:828,tx:291,ty:736},
{c:porosityContours,e:porosityEdges,t:porosityTicks,d:2,fs:11,col:rangeColor(-.031,.2,true),g:[426,435],b:[426,782,127,12],cap:'Porosity change []',cx:434,cy:829,tx:664,ty:735},
{c:permeabilityContours,e:permeabilityEdges,t:permeabilityTicks,d:1,fs:11,col:jetColor,g:[801,434],b:[802,781,126,12],cap:'Log Permeability Ratio [log K{s|X}/K{s|X0}]',cx:781,cy:827,tx:1040,ty:734}
];
const MAPW=316,MAPH=315,XR=2.55;
const fmt=d=>v=>(+v).toFixed(d).replace('-','\u2212');
const grid=[],xAxis=[],yAxis=[],series=[],graphic=[];
const lblStyle={color:TXT,fontFamily:'Liberation Sans'};
function mapAxis(g,pos,labels,name){
 return {type:'value',gridIndex:g,position:pos,min:-XR,max:XR,splitLine:{show:false},
  axisLine:{show:true,onZero:false,lineStyle:{color:AXIS,width:1.6}},
  axisTick:{show:true,length:3,customValues:mapTicks,lineStyle:{color:'#666',width:1}},
  axisLabel:{show:labels,margin:8,customValues:mapTicks,formatter:fmt(0),fontSize:11,...lblStyle},
  name:name,nameLocation:'middle',nameGap:(pos==='bottom'?22:25),nameTextStyle:{color:TXT,fontSize:13.5,fontFamily:'Liberation Sans',verticalAlign:pos==='bottom'?'top':'bottom'}};
}
panels.forEach((p,k)=>{
 grid.push({left:p.g[0],top:p.g[1],width:MAPW,height:MAPH});
 xAxis.push(mapAxis(k,'bottom',true,'X [cm]'));yAxis.push(mapAxis(k,'left',true,'Y [cm]'));
 series.push({type:'custom',coordinateSystem:'cartesian2d',xAxisIndex:k,yAxisIndex:k,silent:true,clip:false,animation:false,
  data:p.c.map((_,i)=>[i]),
  renderItem:(pr,api)=>{const c=p.c[pr.dataIndex];return {type:'polygon',shape:{points:c[1].map(q=>api.coord(q)),smooth:c[1]===bigBox?0:.3},style:{fill:p.col(c[0]),stroke:null},
    clipPath:{type:'polygon',shape:{points:diskOutline.map(q=>api.coord(q)),smooth:.5}}};}});
 graphic.push({type:'text',left:p.tx,top:p.ty-6,silent:true,style:{text:'Time =  1month',fill:TXT,font:'10.5px "Liberation Sans"'}});
 graphic.push({type:'text',left:p.cx,top:p.cy-6,silent:true,style:{text:p.cap,fill:'#222',font:'15px Lato',rich:{s:{fontSize:10,fontFamily:'Lato',fill:'#222',verticalAlign:'bottom',padding:[8,0,0,0]}}}});
});
panels.forEach((p,k)=>{
 const m=k+6;
 grid.push({left:p.g[0],top:p.g[1],width:MAPW,height:MAPH});
 xAxis.push(mapAxis(m,'top',false,''));yAxis.push(mapAxis(m,'right',false,''));
});
panels.forEach((p,k)=>{
 const n=k+12,lo=p.e[0],hi=p.e[p.e.length-1];
 grid.push({left:p.b[0],top:p.b[1],width:p.b[2],height:p.b[3]});
 xAxis.push({type:'value',gridIndex:n,min:lo,max:hi,splitLine:{show:false},axisLine:{show:false},
  axisTick:{show:true,length:3,customValues:p.t,lineStyle:{color:'#555',width:1}},
  axisLabel:{margin:6,customValues:p.t,formatter:fmt(p.d),hideOverlap:false,showMinLabel:true,showMaxLabel:true,fontSize:p.fs,...lblStyle}});
 yAxis.push({type:'value',gridIndex:n,min:0,max:1,show:false});
 series.push({type:'custom',coordinateSystem:'cartesian2d',xAxisIndex:n,yAxisIndex:n,silent:true,clip:false,animation:false,
  data:p.e.slice(0,-1).map((e,i)=>[e,p.e[i+1]]),
  renderItem:(pr,api)=>{const a=api.coord([api.value(0),1]),b=api.coord([api.value(1),0]);
   const mid=(api.value(0)+api.value(1))/2;
   return {type:'rect',shape:{x:a[0],y:a[1],width:b[0]-a[0]+.5,height:b[1]-a[1]},style:{fill:p.col(mid)}};}});
 series.push({type:'custom',coordinateSystem:'cartesian2d',xAxisIndex:n,yAxisIndex:n,silent:true,clip:false,animation:false,z:5,
  data:[[lo,hi]],
  renderItem:(pr,api)=>{const a=api.coord([api.value(0),1]),b=api.coord([api.value(1),0]);
   return {type:'rect',shape:{x:a[0],y:a[1],width:b[0]-a[0],height:b[1]-a[1]},style:{fill:'none',stroke:'#222',lineWidth:1.4}};}});
});
const chart=echarts.init(document.getElementById('c'),null,{renderer:'canvas'});
chart.setOption({backgroundColor:'#fff',animation:false,grid,xAxis,yAxis,series,graphic,tooltip:{show:false}});
</script></body></html>
